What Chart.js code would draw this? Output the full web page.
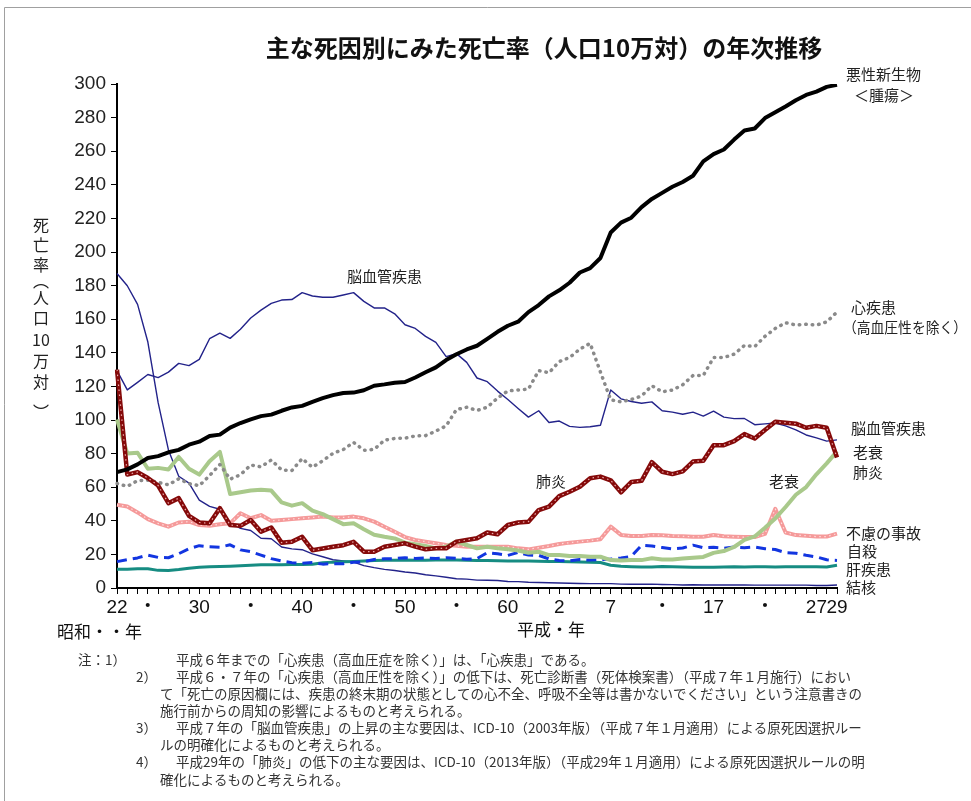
<!DOCTYPE html>
<html><head><meta charset="utf-8">
<script src="https://cdn.jsdelivr.net/npm/chart.js@4/dist/chart.umd.min.js"></script>
<style>html,body{margin:0;padding:0;background:#fff;}canvas{display:block;}</style>
</head><body>
<canvas id="c" width="971" height="801"></canvas>
<script>
// Categories: 昭和22年(1947) .. 平成29年(2017)
const years = ['S22','S23','S24','S25','S26','S27','S28','S29','S30','S31','S32','S33','S34','S35','S36','S37','S38','S39','S40','S41','S42','S43','S44','S45','S46','S47','S48','S49','S50','S51','S52','S53','S54','S55','S56','S57','S58','S59','S60','S61','S62','S63','H1','H2','H3','H4','H5','H6','H7','H8','H9','H10','H11','H12','H13','H14','H15','H16','H17','H18','H19','H20','H21','H22','H23','H24','H25','H26','H27','H28','H29'];
// Tick labels shown on the x axis
const tickLabels = {'S22':'22','S25':'・','S30':'30','S35':'・','S40':'40','S45':'・','S50':'50','S55':'・','S60':'60','H2':'2','H7':'7','H12':'・','H17':'17','H22':'・','H27':'27','H29':'29'};
const yTicks = [0,20,40,60,80,100,120,140,160,180,200,220,240,260,280,300];

const cancer = [69.0,70.6,73.6,77.4,78.5,80.8,82.2,85.3,87.1,90.5,
 91.3,95.5,98.2,100.4,102.3,103.2,105.5,107.5,108.4,110.8,
 113.0,114.8,116.1,116.3,117.7,120.4,121.2,122.2,122.6,125.3,
 128.4,131.3,135.7,139.1,142.0,144.2,148.3,152.5,156.1,158.5,
 164.2,168.4,173.6,177.2,181.7,187.8,190.4,196.4,211.6,217.5,
 220.4,226.7,231.6,235.2,238.8,241.7,245.4,253.9,258.3,261.0,
 266.9,272.3,273.5,279.7,283.2,286.6,290.3,293.5,295.5,298.3,299.5];
const heart = [62.2,60.5,63.9,64.2,62.9,61.4,65.0,62.1,60.9,66.9,
 73.5,64.8,67.4,73.2,72.1,76.2,70.3,69.9,77.0,71.9,
 75.7,80.2,82.4,86.7,82.0,82.5,88.0,89.0,89.2,90.5,
 90.7,93.4,96.5,106.2,107.6,105.7,107.6,113.1,117.3,117.9,
 118.4,129.4,128.1,134.8,137.2,142.2,145.6,128.6,112.0,110.8,
 112.2,114.3,120.4,116.8,117.8,121.0,126.5,126.5,137.2,137.2,
 139.2,144.4,143.7,149.8,154.5,157.9,156.5,157.0,156.5,158.4,164.3];
const cerebro = [129.4,117.9,122.4,127.1,125.2,128.5,133.7,132.4,136.1,148.4,
 151.7,148.6,154.0,160.7,165.4,169.4,171.4,171.7,175.8,173.8,
 173.1,173.1,174.4,175.8,170.6,166.7,166.7,163.2,156.7,154.5,
 149.8,146.2,137.7,139.5,134.3,125.0,122.8,117.2,112.2,106.9,
 101.7,105.5,98.5,99.4,96.2,95.6,96.0,96.9,117.9,112.6,
 111.0,110.0,110.8,105.5,104.7,103.4,104.7,102.3,105.3,101.7,
 100.8,100.9,97.2,97.7,98.2,96.5,94.1,91.1,89.4,87.4,88.2];
const pneumonia = [130.0,67.5,69.0,65.5,61.0,50.5,53.5,43.0,39.0,38.5,
 47.5,37.5,37.0,40.5,33.5,36.0,27.0,27.5,30.5,22.5,
 23.5,24.5,25.5,27.5,21.6,21.6,24.6,25.6,26.6,24.6,
 23.0,23.6,23.6,27.6,28.6,29.6,33.0,32.0,37.5,39.0,
 39.5,46.4,48.4,54.7,57.3,60.3,65.3,66.3,64.1,56.9,
 63.1,63.8,74.9,69.2,67.8,69.4,75.3,75.7,85.0,85.0,
 87.4,91.6,89.0,94.1,98.9,98.4,97.8,95.4,96.5,95.4,77.7];
const senility = [100.3,80.0,80.5,71.0,71.5,70.5,78.0,71.0,67.5,75.5,
 81.0,56.0,57.0,58.0,58.5,58.0,51.0,49.0,50.5,46.0,
 44.0,41.0,38.0,38.5,35.0,31.7,30.5,29.5,27.0,26.0,
 25.0,23.6,24.6,27.6,25.6,23.6,24.6,23.6,23.0,22.3,
 21.0,21.6,19.6,19.6,19.0,19.0,18.6,18.6,16.6,16.3,
 16.6,16.6,17.7,16.9,17.0,17.5,18.0,18.5,20.9,22.0,
 24.4,28.6,30.7,35.9,41.4,48.2,55.5,60.1,67.7,74.2,81.3];
const accidents = [49.5,48.5,45.0,41.0,38.5,36.5,39.0,39.5,37.5,37.0,
 38.0,38.5,44.5,41.5,43.4,40.0,40.5,41.0,41.5,42.0,
 42.5,42.0,42.0,42.5,41.5,39.5,36.5,33.5,30.3,28.6,
 27.6,26.6,25.6,25.1,24.6,24.6,24.6,24.6,24.6,23.6,
 23.0,24.0,25.0,26.2,27.0,27.6,28.2,29.0,36.5,31.6,
 31.0,31.0,31.6,31.4,31.0,30.8,30.5,30.5,31.6,30.8,
 30.5,30.3,30.3,32.2,47.1,33.0,31.5,31.1,30.6,30.6,32.4];
const suicide = [15.7,16.9,17.9,19.6,18.2,18.0,20.4,23.4,25.2,24.5,
 24.3,25.7,22.7,21.6,19.6,17.5,16.1,15.1,14.7,15.2,
 14.2,14.5,14.5,15.3,15.6,17.0,17.4,17.5,18.0,17.6,
 17.9,17.6,18.0,17.7,17.1,17.5,21.0,20.4,19.4,21.2,
 19.6,19.4,17.3,16.4,16.1,16.9,16.6,16.9,17.2,17.8,
 18.8,25.4,25.0,24.1,23.3,23.8,25.5,24.0,24.2,23.7,
 24.4,24.0,24.4,23.4,22.9,21.0,20.7,19.5,18.5,16.8,16.4];
const liver = [11.2,11.2,11.5,11.5,10.5,10.4,11.0,11.8,12.3,12.6,
 12.8,13.0,13.3,13.6,13.8,13.8,13.9,14.0,14.0,14.2,
 15.0,15.4,15.6,15.8,16.0,16.3,16.5,16.5,16.6,16.5,
 16.5,16.6,16.6,16.6,16.5,16.4,16.3,16.2,16.1,16.0,
 16.0,15.9,15.8,15.7,15.6,15.5,15.4,15.2,13.5,13.0,
 12.7,12.5,12.5,12.8,12.6,12.5,12.4,12.3,12.4,12.5,
 12.6,12.5,12.6,12.6,12.5,12.7,12.6,12.6,12.6,12.5,13.6];
const tb = [187.2,179.9,168.8,146.4,110.3,82.2,66.5,62.4,52.3,48.6,
 46.9,39.0,35.5,34.2,29.6,29.3,24.4,23.3,22.8,20.3,
 18.6,16.8,16.1,15.4,13.3,12.1,11.1,10.4,9.5,8.9,
 7.9,7.2,6.4,5.5,5.3,4.7,4.6,4.5,3.9,3.8,
 3.4,3.3,3.1,3.0,2.8,2.7,2.6,2.6,2.6,2.3,
 2.2,2.2,2.3,2.1,2.0,1.8,1.9,1.8,1.8,1.8,
 1.8,1.8,1.7,1.7,1.7,1.7,1.7,1.7,1.5,1.5,1.8];

const JP = '"Noto Sans CJK JP","Noto Sans",sans-serif';
const NUM = '"Liberation Sans",Arial,"Noto Sans CJK JP",sans-serif';

const title = '主な死因別にみた死亡率（人口10万対）の年次推移';
const seriesLabels = [
 ['悪性新生物', 846, 74], ['＜腫瘍＞', 854, 95],
 ['心疾患', 851, 307], ['（高血圧性を除く）', 843, 327, 124],
 ['脳血管疾患', 851, 428], ['老衰', 853, 452], ['肺炎', 853, 472],
 ['不慮の事故', 846, 533], ['自殺', 847, 551], ['肝疾患', 846, 569], ['結核', 846, 587],
 ['脳血管疾患', 347, 276], ['肺炎', 536, 481], ['老衰', 769, 481]
];
const yTitle = [['死',225],['亡',245],['率',265],['︵',281],['人',298],['口',318],['10',340],['万',361],['対',382],['︶',412]];
const eraLabels = [['昭和・・年', 57, 632], ['平成・年', 517, 630]];
const notes = [
 ['注：1）', 78, 660], ['平成６年までの「心疾患（高血圧症を除く）」は、「心疾患」である。', 176, 660],
 ['2）', 136, 677], ['平成６・７年の「心疾患（高血圧性を除く）」の低下は、死亡診断書（死体検案書）（平成７年１月施行）におい', 176, 677, 718],
 ['て「死亡の原因欄には、疾患の終末期の状態としての心不全、呼吸不全等は書かないでください」という注意書きの', 160, 694, 734],
 ['施行前からの周知の影響によるものと考えられる。', 160, 711],
 ['3）', 136, 728], ['平成７年の「脳血管疾患」の上昇の主な要因は、ICD-10（2003年版）（平成７年１月適用）による原死因選択ルー', 176, 728, 718],
 ['ルの明確化によるものと考えられる。', 160, 745],
 ['4）', 136, 762], ['平成29年の「肺炎」の低下の主な要因は、ICD-10（2013年版）（平成29年１月適用）による原死因選択ルールの明', 176, 762, 718],
 ['確化によるものと考えられる。', 160, 780]
];

const textPlugin = {
 id: 'texts',
 beforeDraw(chart) {
  const c = chart.ctx; c.save();
  c.fillStyle = '#fff'; c.fillRect(0, 0, chart.width, chart.height);
  c.strokeStyle = '#a0a0a0'; c.lineWidth = 1;
  c.beginPath(); c.moveTo(4.5, 801); c.lineTo(4.5, 7.5); c.lineTo(971, 7.5); c.stroke();
  c.restore();
 },
 afterDraw(chart) {
  const c = chart.ctx; c.save();
  c.textBaseline = 'middle';
  c.fillStyle = '#111'; c.textAlign = 'center';
  c.font = 'bold 24px ' + JP;
  c.fillText(title, 544, 48, 574);
  c.textAlign = 'left'; c.fillStyle = '#222';
  c.font = '15px ' + JP;
  seriesLabels.forEach(l => { if (l[3]) c.fillText(l[0], l[1], l[2], l[3]); else c.fillText(l[0], l[1], l[2]); });
  c.textAlign = 'center'; c.font = '16px ' + JP;
  yTitle.forEach(t => c.fillText(t[0], 41, t[1]));
  c.textAlign = 'left'; c.font = '17px ' + JP; c.fillStyle = '#111';
  eraLabels.forEach(t => c.fillText(t[0], t[1], t[2]));
  c.font = '13.5px ' + JP; c.fillStyle = '#333';
  notes.forEach(n => { if (n[3]) c.fillText(n[0], n[1], n[2], n[3]); else c.fillText(n[0], n[1], n[2]); });
  c.restore();
 }
};

function ds(data, color, width, extra) {
 return Object.assign({data, borderColor: color, borderWidth: width, pointRadius: 0, fill: false, tension: 0, borderJoinStyle: 'round'}, extra || {});
}

new Chart(document.getElementById('c'), {
 type: 'line',
 data: {
  labels: years,
  datasets: [
   ds(cancer, '#000', 4),
   ds(pneumonia, 'rgba(255,200,200,0.85)', 1.2, {borderDash: [1.5, 3.5]}),
   ds(pneumonia, '#850a0a', 4.5),
   ds(heart, '#8a8a8a', 3.5, {borderDash: [0.5, 6], borderCapStyle: 'round'}),
   ds(cerebro, '#23238a', 1.4),
   ds(senility, '#a9c98b', 4),
   ds(accidents, 'rgba(255,225,225,0.95)', 1.2, {borderDash: [1.5, 3.5]}),
   ds(accidents, '#f59a9a', 4),
   ds(suicide, '#1235e0', 3, {borderDash: [10, 6]}),
   ds(liver, '#168c82', 3),
   ds(tb, '#23238a', 1.4)
  ]
 },
 options: {
  responsive: false, animation: false, devicePixelRatio: 1,
  layout: {padding: {left: 0, top: 84, right: 134, bottom: 173}},
  plugins: {legend: {display: false}, tooltip: {enabled: false}, title: {display: false}},
  scales: {
   x: {
    type: 'category', offset: false,
    grid: {display: true, drawOnChartArea: false, drawTicks: true, tickLength: 6, color: '#000', lineWidth: 1},
    border: {display: true, color: '#000', width: 2},
    ticks: {autoSkip: false, maxRotation: 0, minRotation: 0, padding: 2, color: '#111',
     font: {family: NUM, size: 19},
     callback: (v, i) => tickLabels[years[i]] || ''},
    afterFit(s) { s.height = 40; }
   },
   y: {
    min: 0, max: 300,
    afterBuildTicks(s) { s.ticks = yTicks.map(v => ({value: v})); },
    ticks: {padding: 5, color: '#222', font: {family: NUM, size: 19}},
    grid: {display: true, drawOnChartArea: false, drawTicks: true, tickLength: 6, color: '#000', lineWidth: 1},
    border: {display: true, color: '#000', width: 2},
    afterFit(s) { s.width = 117; }
   }
  }
 },
 plugins: [textPlugin]
});
</script>
</body></html>
